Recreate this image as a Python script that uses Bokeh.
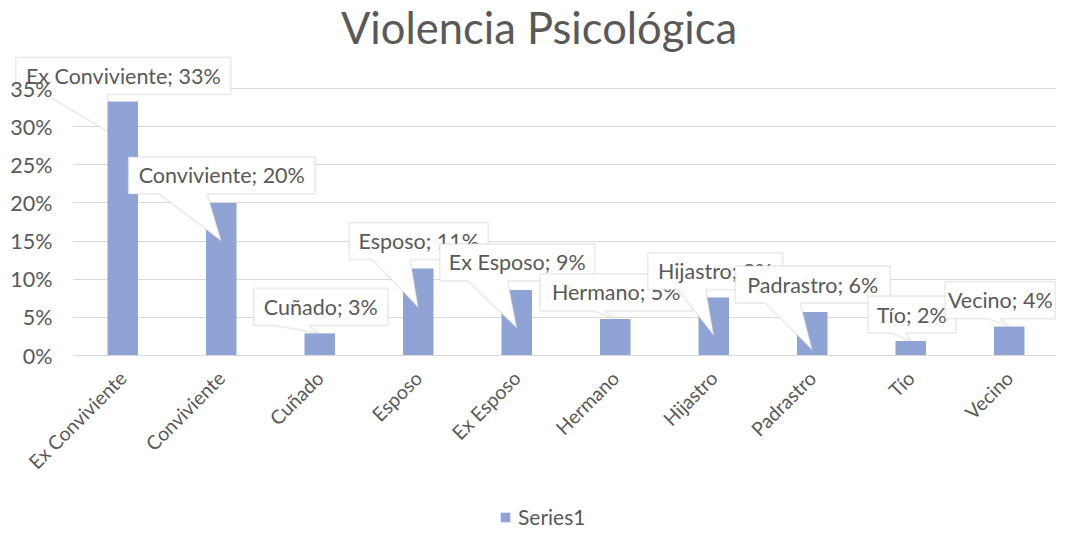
import math
from bokeh.plotting import figure
from bokeh.models import (Range1d, FixedTicker, NumeralTickFormatter,
                          PolyAnnotation, Label, Legend, LegendItem)
from bokeh.embed import file_html
from bokeh.resources import INLINE

# ---------------- data ----------------
categories = ["Ex Conviviente", "Conviviente", "Cuñado", "Esposo", "Ex Esposo",
              "Hermano", "Hijastro", "Padrastro", "Tío", "Vecino"]
values = [0.333, 0.200, 0.029, 0.114, 0.086, 0.048, 0.076, 0.057, 0.019, 0.038]
y_ticks = [0.0, 0.05, 0.10, 0.15, 0.20, 0.25, 0.30, 0.35]
title_text = "Violencia Psicológica"
series_name = "Series1"

# ---------------- callout layout (pixels relative to the bar's top centre) ----------------
box_left = [-107, -93, -66, -69, -77, -75, -66, -77, -43, -64]
box_top = [-44, -46, -45, -46, -46, -45, -45, -46, -45, -45]
box_width = [215, 187, 134, 139, 155, 152, 135, 155, 88, 110]
base_left = [-77, -62, -46, -46, -49, -22, -36, -47, -20, -22]
base_right = [-16, -14, -11, -8, -9, -10, -8, -12, -5, -9]
tip_drop = [39, 38, 0, 39, 38, 0, 38, 38, 0, 0]
BOX_H = 37

# ---------------- geometry / style ----------------
W, H = 1056, 529
PLOT_L, PLOT_R, PLOT_T, PLOT_B = 73, 1058, 88, 355   # plot area inside the canvas (px)
N = len(categories)
Y_MAX = y_ticks[-1]
px_x = N / (PLOT_R - PLOT_L)          # data units per pixel
px_y = Y_MAX / (PLOT_B - PLOT_T)

FONT = "Lato"
TXT = "#595959"
GRID = "#D9D9D9"
BAR = "#8FA4D4"
CALLOUT_LINE = "#BFBFBF"

x_range = Range1d(-PLOT_L * px_x, N + (W - PLOT_R) * px_x)
y_range = Range1d(-(H - PLOT_B) * px_y, Y_MAX + PLOT_T * px_y)

p = figure(width=W, height=H, x_range=x_range, y_range=y_range,
           output_backend="svg", toolbar_location=None,
           min_border_left=0, min_border_right=0, min_border_top=0, min_border_bottom=0)
p.outline_line_color = None
p.background_fill_color = "white"
p.border_fill_color = "white"

xpos = [i + 0.5 for i in range(N)]
bars = p.vbar(x=xpos, top=values, width=0.31, fill_color=BAR, line_color=None)

# grid
p.xgrid.grid_line_color = None
p.ygrid.ticker = FixedTicker(ticks=y_ticks)
p.ygrid.grid_line_color = GRID
p.ygrid.grid_line_width = 1
try:
    p.ygrid.cross_bounds = (0, N)
except AttributeError:
    p.ygrid.grid_line_color = None
    p.segment(x0=[0] * len(y_ticks), x1=[N] * len(y_ticks), y0=y_ticks, y1=y_ticks,
              line_color=GRID, line_width=1, level="underlay")

# y axis
yax = p.yaxis[0]
yax.fixed_location = 0
yax.ticker = FixedTicker(ticks=y_ticks)
yax.formatter = NumeralTickFormatter(format="0%")
yax.axis_line_color = None
yax.major_tick_line_color = None
yax.minor_tick_line_color = None
yax.major_tick_out = 0
yax.major_tick_in = 0
yax.major_label_standoff = 21
yax.major_label_text_font = FONT
yax.major_label_text_font_size = "21.5px"
yax.major_label_text_color = TXT

# x axis
xax = p.xaxis[0]
xax.fixed_location = 0
xax.bounds = (0, N)
xax.ticker = FixedTicker(ticks=xpos)
xax.major_label_overrides = {x: c for x, c in zip(xpos, categories)}
xax.axis_line_color = GRID
xax.axis_line_width = 1
xax.major_tick_line_color = None
xax.minor_tick_line_color = None
xax.major_tick_out = 0
xax.major_tick_in = 0
xax.major_label_standoff = 19
xax.major_label_orientation = math.pi / 4
xax.major_label_text_font = FONT
xax.major_label_text_font_size = "19.5px"
xax.major_label_text_color = TXT

# callouts (later ones drawn on top)
for i, (cat, v) in enumerate(zip(categories, values)):
    cx = xpos[i]
    bl, bt, bw = box_left[i], box_top[i], box_width[i]
    bb = bt + BOX_H
    pts = [(bl, bt), (bl + bw, bt), (bl + bw, bb), (base_right[i], bb),
           (0, tip_drop[i]), (base_left[i], bb), (bl, bb)]
    xs = [cx + dx * px_x for dx, dy in pts]
    ys = [v - dy * px_y for dx, dy in pts]
    poly = PolyAnnotation(xs=xs, ys=ys, fill_color="white", fill_alpha=1.0,
                          line_color=CALLOUT_LINE, line_width=1.75)
    if i == 0:
        poly.level = "underlay"   # the value-axis labels stay readable over this box
    p.add_layout(poly)
    p.add_layout(Label(x=cx + (bl + bw / 2) * px_x, y=v - (bt + BOX_H / 2) * px_y,
                       text=f"{cat}; {round(v * 100)}%", text_align="center",
                       text_baseline="middle", text_font=FONT, text_font_size="21.5px",
                       text_color=TXT))

# title
p.add_layout(Label(x=(538.5 - PLOT_L) * px_x, y=Y_MAX + (PLOT_T - 26) * px_y, text=title_text,
                   text_align="center", text_baseline="middle", text_font=FONT,
                   text_font_size="43.5px", text_color=TXT))

# legend
legend = Legend(items=[LegendItem(label=series_name, renderers=[bars])],
                location=(499, 0), orientation="horizontal",
                border_line_color=None, background_fill_alpha=0,
                label_text_font=FONT, label_text_font_size="21px", label_text_color=TXT,
                glyph_width=12, glyph_height=12, padding=0, margin=0, label_standoff=7)
p.add_layout(legend)

open("out.html", "w").write(file_html(p, INLINE))
